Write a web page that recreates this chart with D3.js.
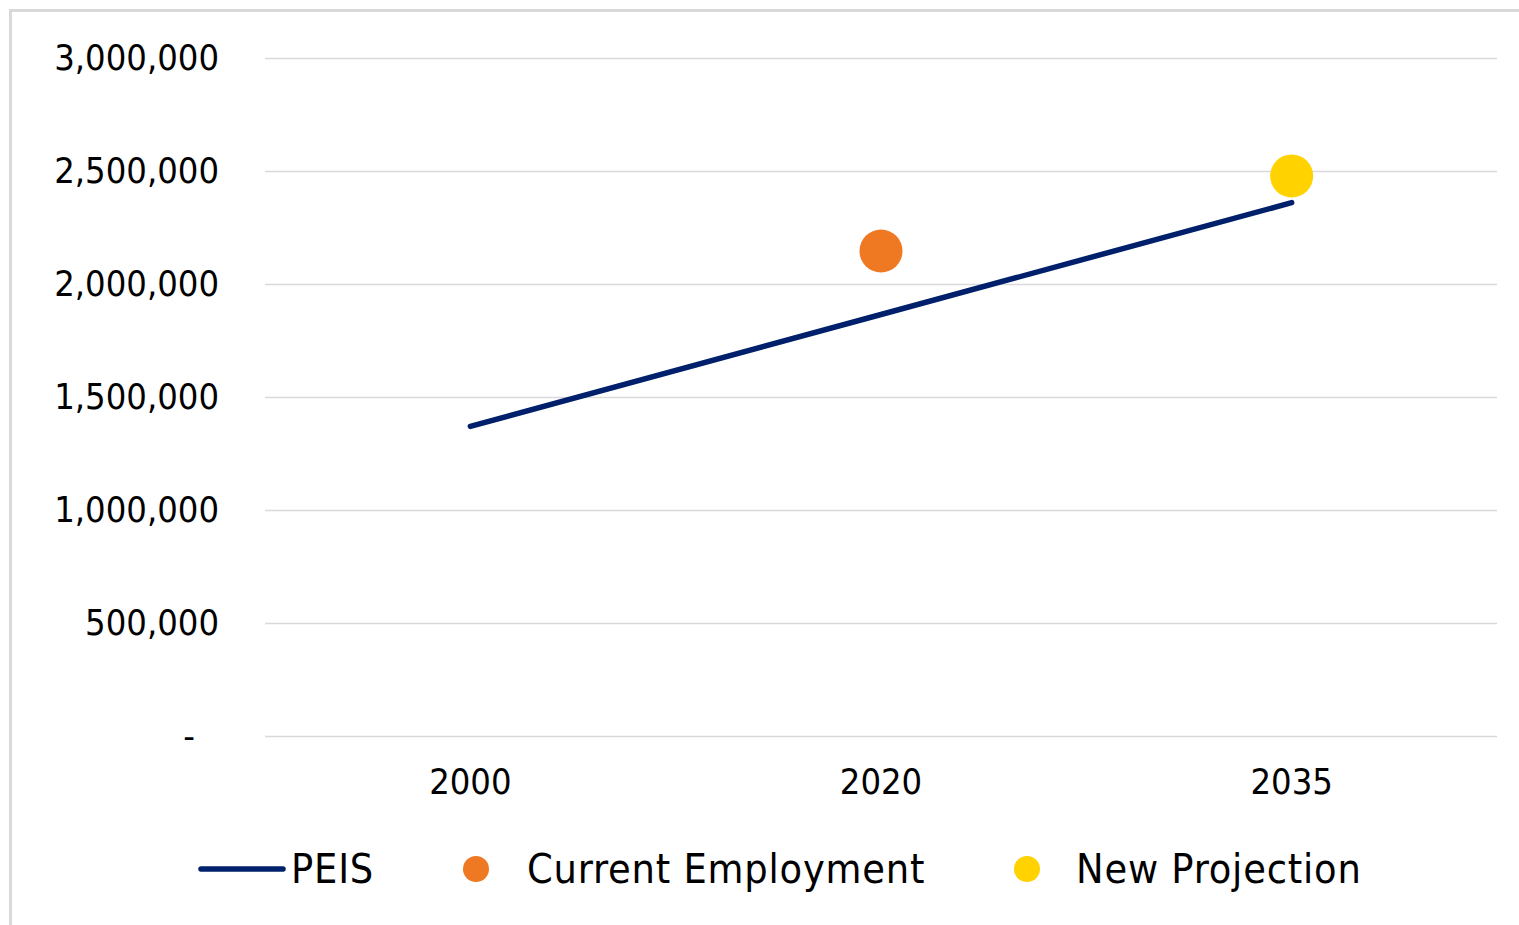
<!DOCTYPE html>
<html>
<head>
<meta charset="utf-8">
<script src="https://cdn.jsdelivr.net/npm/d3@7"></script>
<style>
  html, body { margin: 0; padding: 0; background: #fff; }
  svg { display: block; }
</style>
</head>
<body>
<svg width="1519" height="925"></svg>
<script>
"use strict";

// values
const YEARS = ["2000", "2020", "2035"];
const peisValues = [1370000, 1865000, 2360000];
const currentYears = ["2020"];
const currentValues = [2146000];
const projectionYears = ["2035"];
const projectionValues = [2478000];
const yTicks = [0, 500000, 1000000, 1500000, 2000000, 2500000, 3000000];
const legendLabels = ["PEIS", "Current Employment", "New Projection"];

const NAVY = "#00206b", ORANGE = "#ef7822", YELLOW = "#ffd200";
const FONT = "'DejaVu Sans Condensed', 'DejaVu Sans', sans-serif";

const svg = d3.select("svg");

// outer frame (only top and left edges visible)
svg.append("rect")
    .attr("x", 10.5).attr("y", 10.5)
    .attr("width", 1530).attr("height", 940)
    .attr("fill", "none").attr("stroke", "#d9d9d9").attr("stroke-width", 3);

const padding = {top: 58, left: 265, right: 22, bottom: 189};
const W = 1519, H = 925;

const x = d3.scaleBand()
    .domain(YEARS)
    .range([padding.left, W - padding.right])
    .padding(0);

const y = d3.scaleLinear()
    .domain([0, 3000000])
    .range([H - padding.bottom, padding.top]);

const cx = d => x(d) + x.bandwidth() / 2;

// gridlines + y labels
const yAxis = d3.axisLeft(y)
    .tickValues(yTicks)
    .tickSize(-(W - padding.right - padding.left))
    .tickPadding(46)
    .tickFormat(d => d === 0 ? "-" : d3.format(",")(d));

const gy = svg.append("g")
    .attr("transform", `translate(${padding.left},0)`)
    .call(yAxis);
gy.select(".domain").remove();
gy.selectAll(".tick line").attr("stroke", "#d9d9d9").attr("stroke-width", 1.5);
gy.selectAll(".tick text")
    .attr("fill", "#000")
    .style("font-family", FONT)
    .style("font-size", "36px")
    .attr("dx", d => d === 0 ? -24 : 0);

// x labels
const gx = svg.append("g")
    .attr("transform", `translate(0,${H - padding.bottom})`)
    .call(d3.axisBottom(x).tickSize(0).tickPadding(32));
gx.select(".domain").remove();
gx.selectAll(".tick text")
    .attr("fill", "#000")
    .style("font-family", FONT)
    .style("font-size", "36px");

// PEIS line
const line = d3.line()
    .x((d, i) => cx(YEARS[i]))
    .y(d => y(d));

svg.append("path")
    .datum(peisValues)
    .attr("d", line)
    .attr("fill", "none")
    .attr("stroke", NAVY)
    .attr("stroke-width", 5.5)
    .attr("stroke-linecap", "round");

// point series
svg.append("g").selectAll("circle")
    .data(currentValues)
    .join("circle")
    .attr("cx", (d, i) => cx(currentYears[i]))
    .attr("cy", d => y(d))
    .attr("r", 21.5)
    .attr("fill", ORANGE);

svg.append("g").selectAll("circle")
    .data(projectionValues)
    .join("circle")
    .attr("cx", (d, i) => cx(projectionYears[i]))
    .attr("cy", d => y(d))
    .attr("r", 21.5)
    .attr("fill", YELLOW);

// legend
const legY = 869;
const leg = svg.append("g");
leg.append("line")
    .attr("x1", 201).attr("x2", 283)
    .attr("y1", legY).attr("y2", legY)
    .attr("stroke", NAVY).attr("stroke-width", 5.5)
    .attr("stroke-linecap", "round");
leg.append("circle").attr("cx", 476).attr("cy", legY).attr("r", 13).attr("fill", ORANGE);
leg.append("circle").attr("cx", 1027).attr("cy", legY).attr("r", 13).attr("fill", YELLOW);

const legX = [291, 527, 1076];
leg.selectAll("text")
    .data(legendLabels)
    .join("text")
    .attr("x", (d, i) => legX[i])
    .attr("y", legY)
    .attr("dy", "0.35em")
    .attr("fill", "#000")
    .style("font-family", FONT)
    .style("font-size", "41px")
    .style("letter-spacing", "0.8px")
    .text(d => d);
</script>
</body>
</html>
